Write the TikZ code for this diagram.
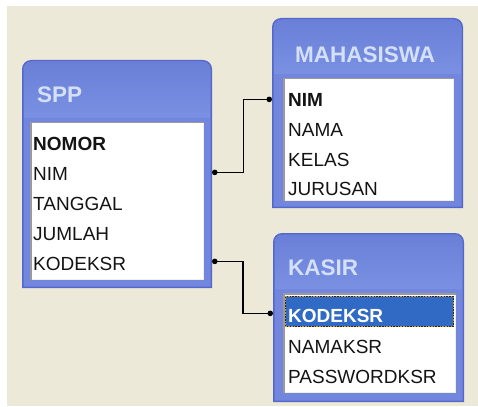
\documentclass[tikz,border=0pt]{standalone}
\usepackage{fontspec}
\setmainfont{Liberation Sans}
\usetikzlibrary{arrows.meta}
\definecolor{beige}{HTML}{ECE9D8}
\definecolor{edgeblue}{HTML}{5468CC}
\definecolor{borderblue}{HTML}{7286DE}
\definecolor{titletop}{HTML}{6A80D8}
\definecolor{titlemid}{HTML}{8CA8EC}
\definecolor{titlebot}{HTML}{7A90E2}
\definecolor{titletext}{HTML}{D4E0F8}
\definecolor{panelgray}{HTML}{9A9A9A}
\definecolor{panellight}{HTML}{F1EFE2}
\definecolor{selblue}{HTML}{316AC5}
\definecolor{focusgold}{HTML}{C8A040}
\newcommand{\dbframe}[8]{%
  \fill[edgeblue] (#1,#4) [rounded corners=9] -- (#1,#2) -- (#3,#2) [sharp corners] -- (#3,#4) -- cycle;
  \fill[borderblue] (#1+1.5,#4-1.5) [rounded corners=8] -- (#1+1.5,#2+1.5) -- (#3-1.5,#2+1.5) [sharp corners] -- (#3-1.5,#4-1.5) -- cycle;
  \shade[top color=titletop,middle color=titlemid,bottom color=titlebot] (#1+2,#6-4) [rounded corners=7.5] -- (#1+2,#2+2) -- (#3-2,#2+2) [sharp corners] -- (#3-2,#6-4) -- cycle;
  \fill[white] (#5,#6) rectangle (#7,#8);
  \draw[panelgray,line width=1.5] (#5+0.75,#8) -- (#5+0.75,#6+0.75) -- (#7,#6+0.75);
  \draw[panellight,line width=1.5] (#5+1.5,#8-0.75) -- (#7-0.75,#8-0.75) -- (#7-0.75,#6+1.5);
}
\tikzset{
  tablebox/.style={rectangle,inner sep=0,outer sep=0,draw=none},
  titlelabel/.style={anchor=base west,inner sep=0,text=titletext,font=\fontsize{22.5}{27}\selectfont\bfseries},
  field/.style={anchor=base west,inner sep=0,text=black!92,font=\fontsize{19}{23}\selectfont},
  keyfield/.style={field,font=\fontsize{19}{23}\selectfont\bfseries},
  link/.style={line width=1.5,black,{Circle[length=5.5pt]}-{Circle[length=5.5pt]}}
}
\begin{document}
\begin{tikzpicture}[x=1pt,y=-1pt]
\useasboundingbox (0,0) rectangle (478,406);
\fill[white] (0,0) rectangle (478,406);
\fill[beige] (7,6) rectangle (478,406);

% SPP
\node[tablebox,minimum width=190,minimum height=228] (spp) at (117,174) {};
\dbframe{22}{60}{212}{288}{30}{122}{204}{280}
\node[titlelabel] (spp-title) at (37,103) {SPP};
\node[keyfield] (spp-nomor) at (33,150) {NOMOR};
\node[field] (spp-nim) at (33,180) {NIM};
\node[field] (spp-tanggal) at (33,210) {TANGGAL};
\node[field] (spp-jumlah) at (33,240) {JUMLAH};
\node[field] (spp-kodeksr) at (33,270) {KODEKSR};

% MAHASISWA
\node[tablebox,minimum width=191,minimum height=190] (mhs) at (367.5,113) {};
\dbframe{272}{18}{463}{208}{283}{78}{454}{201}
\node[titlelabel] (mhs-title) at (295,63) {MAHASISWA};
\node[keyfield] (mhs-nim) at (288,107) {NIM};
\node[field] (mhs-nama) at (288,136.5) {NAMA};
\node[field] (mhs-kelas) at (288,166) {KELAS};
\node[field] (mhs-jurusan) at (288,195) {JURUSAN};

% KASIR
\node[tablebox,minimum width=191,minimum height=169] (ksr) at (368.5,317.5) {};
\dbframe{273}{233}{464}{402}{283}{293}{456}{393}
\node[titlelabel] (ksr-title) at (288,275) {KASIR};
\fill[selblue] (285,296) rectangle (454,327);
\draw[focusgold,line width=1.4] (285.7,296.7) rectangle (453.3,326.3);
\draw[black!85,line width=1.4,dash pattern=on 1.4pt off 1.4pt] (285.7,296.7) rectangle (453.3,326.3);
\node[keyfield,text=white] (ksr-kodeksr) at (288,322) {KODEKSR};
\node[field] (ksr-namaksr) at (288,353) {NAMAKSR};
\node[field] (ksr-password) at (288,383) {PASSWORDKSR};

% connectors
\path (spp-nim.mid -| spp.east) ++(0,-5) coordinate (a1);
\path (mhs-nim.mid -| mhs.west) ++(0,-5) coordinate (b1);
\path (spp-kodeksr.mid -| spp.east) ++(0,-6) coordinate (a2);
\path (ksr-kodeksr.mid -| ksr.west) ++(0,-6) coordinate (b2);
\draw[link] (a1) -- ++(31.5,0) |- (b1);
\draw[link] (a2) -- ++(31,0) |- (b2);
\end{tikzpicture}
\end{document}
